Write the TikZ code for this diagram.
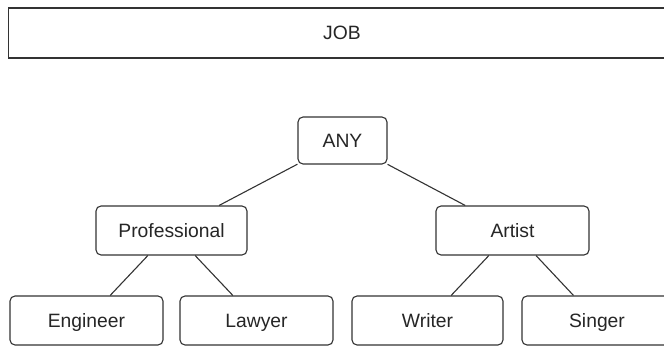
\documentclass[tikz,border=0pt]{standalone}
\usepackage{fontspec}
\setmainfont{Liberation Sans}
\begin{document}
\begin{tikzpicture}[x=1pt,y=-1pt,
  box/.style={draw=black!80, line width=1.1pt, rounded corners=5pt, fill=white,
    minimum height=49pt, inner sep=0pt, text height=13.8pt, text depth=0pt,
    font=\fontsize{19.3}{21}\selectfont, text=black!85},
  edge/.style={draw=black!80, line width=1.1pt}]
\useasboundingbox (0,0) rectangle (664,347);
\clip (0,0) rectangle (664,347);
\node[box, rounded corners=0pt, minimum width=667pt, minimum height=50pt] (job) at (342,33) {JOB};
\node[box, minimum width=89pt, minimum height=47pt] (any) at (342.5,140.5) {ANY};
\node[box, minimum width=151pt] (prof) at (171.5,230.5) {Professional};
\node[box, minimum width=153pt] (artist) at (512.5,230.5) {Artist};
\node[box, minimum width=153pt] (eng) at (86.5,320.5) {Engineer};
\node[box, minimum width=153pt] (law) at (256.5,320.5) {Lawyer};
\node[box, minimum width=151pt] (wri) at (427.5,320.5) {Writer};
\node[box, minimum width=150pt] (sing) at (597,320.5) {Singer};
\draw[edge] (any) -- (prof);
\draw[edge] (any) -- (artist);
\draw[edge] (prof) -- (eng);
\draw[edge] (prof) -- (law);
\draw[edge] (artist) -- (wri);
\draw[edge] (artist) -- (sing);
\end{tikzpicture}
\end{document}
